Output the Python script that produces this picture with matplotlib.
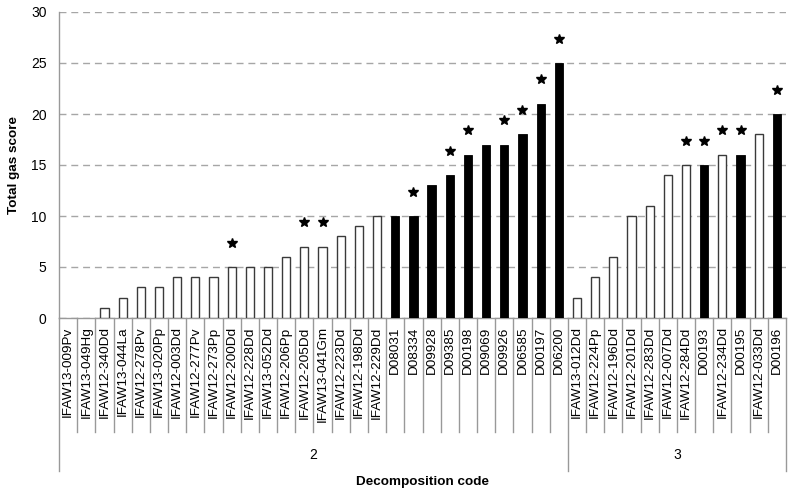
import numpy as np
import matplotlib.pyplot as plt
from matplotlib.transforms import blended_transform_factory

plt.rcParams["font.family"] = ["Liberation Sans", "DejaVu Sans"]

# Decomposition codes, grouped by decomposition stage (2 and 3)
codes_2 = [
    "IFAW13-009Pv", "IFAW13-049Hg", "IFAW12-340Dd", "IFAW13-044La",
    "IFAW12-278Pv", "IFAW13-020Pp", "IFAW12-003Dd", "IFAW12-277Pv",
    "IFAW12-273Pp", "IFAW12-200Dd", "IFAW12-228Dd", "IFAW13-052Dd",
    "IFAW12-206Pp", "IFAW12-205Dd", "IFAW13-041Gm", "IFAW12-223Dd",
    "IFAW12-198Dd", "IFAW12-229Dd", "D08031", "D08334", "D09928",
    "D09385", "D00198", "D09069", "D09926", "D06585", "D00197", "D06200",
]
scores_2 = [0, 0, 1, 2, 3, 3, 4, 4, 4, 5, 5, 5, 6, 7, 7, 8, 9, 10,
            10, 10, 13, 14, 16, 17, 17, 18, 21, 25]
stars_2 = [0, 0, 0, 0, 0, 0, 0, 0, 0, 1, 0, 0, 0, 1, 1, 0, 0, 0,
           0, 1, 0, 1, 1, 0, 1, 1, 1, 1]

codes_3 = [
    "IFAW13-012Dd", "IFAW12-224Pp", "IFAW12-196Dd", "IFAW12-201Dd",
    "IFAW12-283Dd", "IFAW12-007Dd", "IFAW12-284Dd", "D00193",
    "IFAW12-234Dd", "D00195", "IFAW12-033Dd", "D00196",
]
scores_3 = [2, 4, 6, 10, 11, 14, 15, 15, 16, 16, 18, 20]
stars_3 = [0, 0, 0, 0, 0, 0, 1, 1, 1, 1, 0, 1]

groups = ["2", "3"]

codes = codes_2 + codes_3
scores = np.array(scores_2 + scores_3)
stars = np.array(stars_2 + stars_3, dtype=bool)
# "D" codes are drawn solid black, IFAW codes hollow
solid = np.array([c.startswith("D") for c in codes])

x = np.arange(len(codes))

fig = plt.figure(figsize=(7.94, 4.97), dpi=100)
ax = fig.add_axes([59 / 794, 179 / 497, 727 / 794, 306 / 497])

hollow = ~solid
# zero-height bars get no outline, so nothing shows for them
lw = np.where(scores[hollow] > 0, 1.0, 0.0)
ax.bar(x[hollow], scores[hollow], width=0.45, color="white",
       edgecolor="#3a3a3a", linewidth=lw, zorder=3)
ax.bar(x[solid], scores[solid], width=0.45, color="black",
       edgecolor="black", linewidth=0.6, zorder=3)

ax.plot(x[stars], scores[stars] + 2.4, linestyle="none", marker="*",
        markersize=7, color="black", zorder=4)

ax.set_xlim(-0.5, len(codes) - 0.5)
ax.set_ylim(0, 30)
ax.set_yticks(np.arange(0, 31, 5))
ax.yaxis.grid(True, linestyle=(0, (5, 3.5)), color="#a6a6a6", linewidth=1.0)
ax.set_axisbelow(True)
ax.tick_params(axis="y", length=0, pad=9, labelsize=10)

ax.set_xticks(x)
ax.set_xticklabels(codes, rotation=90, va="top", ha="center", fontsize=9.7)
ax.tick_params(axis="x", length=0, pad=6)

for s in ["top", "right"]:
    ax.spines[s].set_visible(False)
for s in ["left", "bottom"]:
    ax.spines[s].set_color("#999999")
    ax.spines[s].set_linewidth(1.0)

# multi-level category axis separators
trans = blended_transform_factory(ax.transData, ax.transAxes)
bounds = [-0.5, len(codes_2) - 0.5, len(codes) - 0.5]
for b in np.arange(-0.5, len(codes), 1.0):
    low = -0.5 if np.isclose(b, bounds).any() else -0.3725
    ax.plot([b, b], [0, low], transform=trans, color="#999999",
            linewidth=1.0, clip_on=False)

centers = [(bounds[0] + bounds[1]) / 2, (bounds[1] + bounds[2]) / 2]
for g, c in zip(groups, centers):
    ax.text(c, -0.447, g, transform=trans, ha="center", va="center",
            fontsize=10)

ax.set_ylabel("Total gas score", fontsize=9.7, fontweight="bold", labelpad=8)
fig.text(422 / 794, 1 - 482 / 497, "Decomposition code", ha="center",
         va="center", fontsize=9.7, fontweight="bold")

fig.savefig("out.png", dpi=100)
